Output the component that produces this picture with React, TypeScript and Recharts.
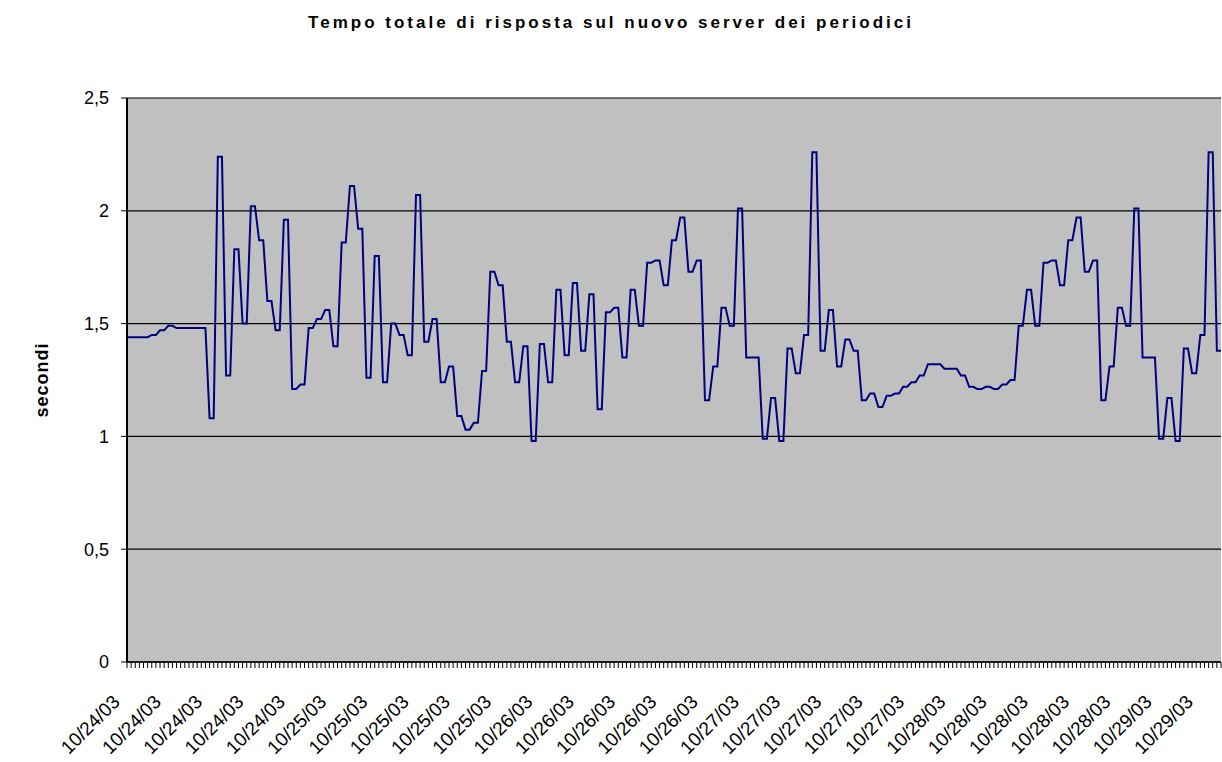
import { LineChart, Line, XAxis, YAxis, CartesianGrid } from "recharts";

const FONT = "'Liberation Sans', Arial, sans-serif";

const chartTitle = "Tempo totale di risposta sul nuovo server dei periodici";
const yTitle = "secondi";

// one label every 10 samples
const tickLabels = [
  "10/24/03", "10/24/03", "10/24/03", "10/24/03", "10/24/03",
  "10/25/03", "10/25/03", "10/25/03", "10/25/03", "10/25/03",
  "10/26/03", "10/26/03", "10/26/03", "10/26/03", "10/26/03",
  "10/27/03", "10/27/03", "10/27/03", "10/27/03", "10/27/03",
  "10/28/03", "10/28/03", "10/28/03", "10/28/03", "10/28/03",
  "10/29/03", "10/29/03",
];

const yTicks = [0, 0.5, 1, 1.5, 2, 2.5];

// response time (s), every reading shows up twice in the sheet
const seconds = [
  1.44, 1.44, 1.44, 1.44, 1.44, 1.44, 1.45, 1.45, 1.47, 1.47,
  1.49, 1.49, 1.48, 1.48, 1.48, 1.48, 1.48, 1.48, 1.48, 1.48,
  1.08, 1.08, 2.24, 2.24, 1.27, 1.27, 1.83, 1.83, 1.5, 1.5,
  2.02, 2.02, 1.87, 1.87, 1.6, 1.6, 1.47, 1.47, 1.96, 1.96,
  1.21, 1.21, 1.23, 1.23, 1.48, 1.48, 1.52, 1.52, 1.56, 1.56,
  1.4, 1.4, 1.86, 1.86, 2.11, 2.11, 1.92, 1.92, 1.26, 1.26,
  1.8, 1.8, 1.24, 1.24, 1.5, 1.5, 1.45, 1.45, 1.36, 1.36,
  2.07, 2.07, 1.42, 1.42, 1.52, 1.52, 1.24, 1.24, 1.31, 1.31,
  1.09, 1.09, 1.03, 1.03, 1.06, 1.06, 1.29, 1.29, 1.73, 1.73,
  1.67, 1.67, 1.42, 1.42, 1.24, 1.24, 1.4, 1.4, 0.98, 0.98,
  1.41, 1.41, 1.24, 1.24, 1.65, 1.65, 1.36, 1.36, 1.68, 1.68,
  1.38, 1.38, 1.63, 1.63, 1.12, 1.12, 1.55, 1.55, 1.57, 1.57,
  1.35, 1.35, 1.65, 1.65, 1.49, 1.49, 1.77, 1.77, 1.78, 1.78,
  1.67, 1.67, 1.87, 1.87, 1.97, 1.97, 1.73, 1.73, 1.78, 1.78,
  1.16, 1.16, 1.31, 1.31, 1.57, 1.57, 1.49, 1.49, 2.01, 2.01,
  1.35, 1.35, 1.35, 1.35, 0.99, 0.99, 1.17, 1.17, 0.98, 0.98,
  1.39, 1.39, 1.28, 1.28, 1.45, 1.45, 2.26, 2.26, 1.38, 1.38,
  1.56, 1.56, 1.31, 1.31, 1.43, 1.43, 1.38, 1.38, 1.16, 1.16,
  1.19, 1.19, 1.13, 1.13, 1.18, 1.18, 1.19, 1.19, 1.22, 1.22,
  1.24, 1.24, 1.27, 1.27, 1.32, 1.32, 1.32, 1.32, 1.3, 1.3,
  1.3, 1.3, 1.27, 1.27, 1.22, 1.22, 1.21, 1.21, 1.22, 1.22,
  1.21, 1.21, 1.23, 1.23, 1.25, 1.25, 1.49, 1.49, 1.65, 1.65,
  1.49, 1.49, 1.77, 1.77, 1.78, 1.78, 1.67, 1.67, 1.87, 1.87,
  1.97, 1.97, 1.73, 1.73, 1.78, 1.78, 1.16, 1.16, 1.31, 1.31,
  1.57, 1.57, 1.49, 1.49, 2.01, 2.01, 1.35, 1.35, 1.35, 1.35,
  0.99, 0.99, 1.17, 1.17, 0.98, 0.98, 1.39, 1.39, 1.28, 1.28,
  1.45, 1.45, 2.26, 2.26, 1.38, 1.38,
];

const data = seconds.map((v, i) => ({ i, v }));

function DateTick({ x, y, index }: any) {
  if (index % 10 !== 0) return null;
  const label = tickLabels[index / 10];
  if (!label) return null;
  const ax = x - 6;
  const ay = y + 33;
  return (
    <text
      x={ax}
      y={ay}
      textAnchor="end"
      fontSize={19}
      fontFamily={FONT}
      fill="#000"
      transform={`rotate(-45, ${ax}, ${ay})`}
    >
      {label}
    </text>
  );
}

export default function App() {
  return (
    <div
      style={{
        position: "absolute",
        left: 0,
        top: 0,
        width: 1222,
        height: 762,
        background: "#fff",
        fontFamily: FONT,
      }}
    >
      <div
        style={{
          position: "absolute",
          top: 13,
          left: 0,
          width: 1222,
          textAlign: "center",
          fontSize: 17,
          fontWeight: "bold",
          letterSpacing: 3,
        }}
      >
        {chartTitle}
      </div>
      <div
        style={{
          position: "absolute",
          left: 42,
          top: 380,
          transform: "translate(-50%, -50%) rotate(-90deg)",
          fontSize: 18,
          fontWeight: "bold",
          letterSpacing: 1,
          whiteSpace: "nowrap",
        }}
      >
        {yTitle}
      </div>
      <LineChart
        width={1222}
        height={762}
        data={data}
        margin={{ top: 98, right: 1, bottom: 0, left: 0 }}
      >
        <CartesianGrid
          vertical={false}
          fill="#C0C0C0"
          fillOpacity={1}
          stroke="#000"
          strokeWidth={1.2}
        />
        <XAxis
          dataKey="i"
          type="category"
          interval={0}
          height={100}
          tickSize={6}
          tickMargin={2}
          axisLine={{ stroke: "#000", strokeWidth: 1.5 }}
          tickLine={{ stroke: "#000" }}
          tick={<DateTick />}
        />
        <YAxis
          width={127}
          domain={[0, 2.5]}
          ticks={yTicks}
          tickSize={6}
          tickMargin={12}
          axisLine={{ stroke: "#000", strokeWidth: 2 }}
          tickLine={{ stroke: "#000" }}
          tick={{ fill: "#000", fontSize: 18, fontFamily: FONT }}
          tickFormatter={(v: number) => String(v).replace(".", ",")}
        />
        <Line
          type="linear"
          dataKey="v"
          stroke="#000080"
          strokeWidth={2}
          dot={false}
          isAnimationActive={false}
        />
      </LineChart>
    </div>
  );
}
